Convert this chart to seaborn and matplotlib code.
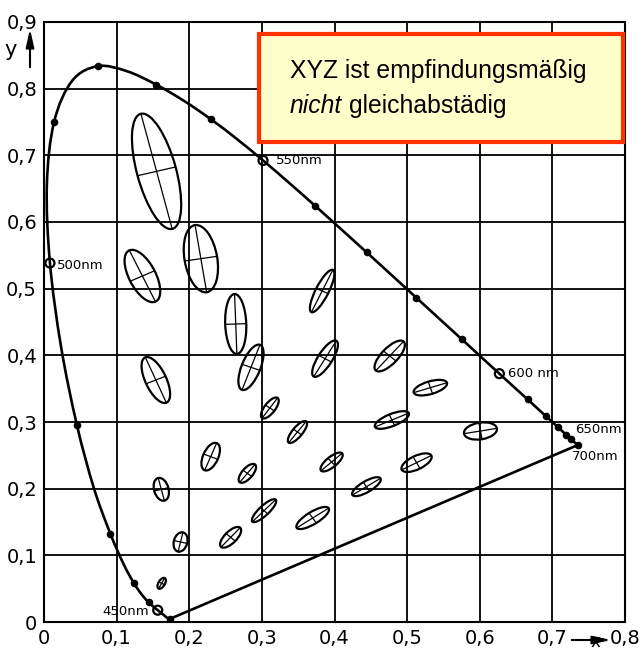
import numpy as np
import pandas as pd
import matplotlib
matplotlib.use("Agg")
import matplotlib.pyplot as plt
from matplotlib.patches import Ellipse, Rectangle, PathPatch
from matplotlib.path import Path
from matplotlib import font_manager
import seaborn as sns

# CIE 1931 spectral locus (2° observer)
wavelength_nm = [380, 390, 400, 410, 420, 425, 430, 435, 440, 445, 450, 455,
                 460, 465, 470, 475, 480, 485, 490, 495, 500, 505, 510, 515,
                 520, 525, 530, 535, 540, 545, 550, 555, 560, 565, 570, 575,
                 580, 585, 590, 595, 600, 605, 610, 615, 620, 625, 630, 635,
                 640, 645, 650, 655, 660, 670, 680, 690, 700]
locus_x = [0.1741, 0.1738, 0.1733, 0.1726, 0.1714, 0.1703, 0.1689, 0.1669,
           0.1644, 0.1611, 0.1566, 0.1510, 0.1440, 0.1355, 0.1241, 0.1096,
           0.0913, 0.0687, 0.0454, 0.0235, 0.0082, 0.0039, 0.0139, 0.0389,
           0.0743, 0.1142, 0.1547, 0.1929, 0.2296, 0.2658, 0.3016, 0.3373,
           0.3731, 0.4087, 0.4441, 0.4788, 0.5125, 0.5448, 0.5752, 0.6029,
           0.6270, 0.6482, 0.6658, 0.6801, 0.6915, 0.7006, 0.7079, 0.7140,
           0.7190, 0.7230, 0.7260, 0.7283, 0.7300, 0.7320, 0.7334, 0.7344,
           0.7347]
locus_y = [0.0050, 0.0049, 0.0048, 0.0048, 0.0051, 0.0058, 0.0069, 0.0086,
           0.0109, 0.0138, 0.0177, 0.0227, 0.0297, 0.0399, 0.0578, 0.0868,
           0.1327, 0.2007, 0.2950, 0.4127, 0.5384, 0.6548, 0.7502, 0.8120,
           0.8338, 0.8262, 0.8059, 0.7816, 0.7543, 0.7243, 0.6923, 0.6589,
           0.6245, 0.5896, 0.5547, 0.5202, 0.4866, 0.4544, 0.4242, 0.3965,
           0.3725, 0.3514, 0.3340, 0.3197, 0.3083, 0.2993, 0.2920, 0.2859,
           0.2809, 0.2770, 0.2740, 0.2717, 0.2700, 0.2680, 0.2666, 0.2656,
           0.2653]

# wavelengths marked with dots / rings on the locus
dot_nm = [380, 460, 470, 480, 490, 510, 520, 530, 540, 560, 570, 580, 590,
          610, 620, 630, 640, 650, 700]
ring_nm = [450, 500, 550, 600]
label_nm = [450, 500, 550, 600, 650, 700]
label_text = ["450nm", "500nm", "550nm", "600 nm", "650nm", "700nm"]

# MacAdam ellipses: centre, semi-axes (1e-3, drawn 10x enlarged), angle (deg)
ell_x = [0.162, 0.188, 0.257, 0.155, 0.1355, 0.216, 0.264, 0.154, 0.285,
         0.383, 0.1615, 0.2295, 0.311, 0.387, 0.476, 0.532, 0.479, 0.513,
         0.601, 0.349, 0.396, 0.444, 0.280, 0.303, 0.370]
ell_y = [0.058, 0.120, 0.127, 0.676, 0.519, 0.545, 0.447, 0.363, 0.382,
         0.4965, 0.199, 0.248, 0.321, 0.395, 0.399, 0.3515, 0.303, 0.239,
         0.2865, 0.285, 0.240, 0.203, 0.223, 0.167, 0.156]
ell_a = [0.9, 1.48, 1.95, 8.9, 4.25, 5.1, 4.5, 3.7, 3.6, 3.5, 1.75, 2.2, 1.85,
         3.1, 2.9, 2.4, 2.55, 2.3, 2.3, 2.0, 1.95, 2.3, 1.7, 2.3, 2.65]
ell_b = [0.45, 0.93, 0.85, 2.7, 1.85, 2.25, 1.45, 1.45, 1.3, 0.9, 1.0, 1.05,
         0.75, 1.0, 1.15, 0.95, 0.9, 1.0, 1.25, 0.7, 0.75, 0.8, 0.75, 0.7, 0.9]
ell_theta = [62, 77, 48, 104, 115, 99, 92, 113, 70, 65, 104, 68, 55, 60, 49,
             18, 24, 28, 10, 53, 42, 33, 52, 46, 34]
SCALE = 1e-3 * 10

x_ticks = [0.0, 0.1, 0.2, 0.3, 0.4, 0.5, 0.6, 0.7, 0.8]
x_ticklabels = ["0", "0,1", "0,2", "0,3", "0,4", "0,5", "0,6", "0,7", "0,8"]
y_ticks = [0.0, 0.1, 0.2, 0.3, 0.4, 0.5, 0.6, 0.7, 0.8, 0.9]
y_ticklabels = ["0", "0,1", "0,2", "0,3", "0,4", "0,5", "0,6", "0,7", "0,8", "0,9"]

note_line1 = "XYZ ist empfindungsmäßig"
note_line2_em = "nicht"
note_line2_rest = "gleichabstädig"


def pick_font(candidates):
    for name in candidates:
        try:
            font_manager.findfont(font_manager.FontProperties(family=name),
                                  fallback_to_default=False)
            return name
        except ValueError:
            continue
    return "DejaVu Sans"


def smooth_path(xs, ys):
    """Cubic Bezier path passing through every locus point (Catmull-Rom tangents)."""
    p = np.column_stack([xs, ys])
    n = len(p)
    verts = [p[0]]
    codes = [Path.MOVETO]
    for i in range(n - 1):
        t0 = (p[min(i + 1, n - 1)] - p[max(i - 1, 0)]) / 2
        t1 = (p[min(i + 2, n - 1)] - p[i]) / 2
        verts += [p[i] + t0 / 3, p[i + 1] - t1 / 3, p[i + 1]]
        codes += [Path.CURVE4] * 3
    return Path(verts, codes)


sns.set_theme(style="white")
plt.rcParams["font.family"] = ["DejaVu Sans"]
plt.rcParams["text.color"] = "black"

W, H = 643, 652
fig = plt.figure(figsize=(W / 100, H / 100), dpi=100)
ax = fig.add_axes([44 / W, 30 / H, 581 / W, 600 / H])

locus = pd.DataFrame({"nm": wavelength_nm, "x": locus_x, "y": locus_y})

# spectral locus (smooth) and line of purples
ax.add_patch(PathPatch(smooth_path(locus["x"], locus["y"]), fill=False,
                       ec="black", lw=1.9, zorder=3))
purple = locus[locus["nm"].isin([wavelength_nm[-1], wavelength_nm[0]])].iloc[::-1]
sns.lineplot(data=purple, x="x", y="y", sort=False, estimator=None,
             color="black", lw=1.9, ax=ax)

sns.scatterplot(data=locus[locus["nm"].isin(dot_nm)], x="x", y="y",
                s=30, color="black", edgecolor="black", linewidth=0, ax=ax,
                zorder=4)
sns.scatterplot(data=locus[locus["nm"].isin(ring_nm)], x="x", y="y",
                s=42, facecolor="none", edgecolor="black", linewidth=1.6,
                ax=ax, zorder=4)

label_offsets = {450: (-6, -1, "right"), 500: (5, -2, "left"),
                 550: (9, 0, "left"), 600: (6, 0, "left"),
                 650: (3, 7, "left"), 700: (-4, -8, "left")}
for nm, txt in zip(label_nm, label_text):
    row = locus[locus["nm"] == nm].iloc[0]
    dx, dy, ha = label_offsets[nm]
    ax.annotate(txt, (row["x"], row["y"]), xytext=(dx, dy),
                textcoords="offset points", ha=ha, va="center",
                fontsize=9.5, color="black")

# MacAdam ellipses with their principal axes
for cx, cy, a, b, th in zip(ell_x, ell_y, ell_a, ell_b, ell_theta):
    A, B = a * SCALE, b * SCALE
    ax.add_patch(Ellipse((cx, cy), 2 * A, 2 * B, angle=th, fill=False,
                         ec="black", lw=1.6, zorder=3))
    t = np.deg2rad(th)
    ax.plot([cx - A * np.cos(t), cx + A * np.cos(t)],
            [cy - A * np.sin(t), cy + A * np.sin(t)],
            color="black", lw=0.9, zorder=3)
    ax.plot([cx + B * np.sin(t), cx - B * np.sin(t)],
            [cy - B * np.cos(t), cy + B * np.cos(t)],
            color="black", lw=0.9, zorder=3)

ax.set_xlim(0, 0.8)
ax.set_ylim(0, 0.9)
ax.set_xticks(x_ticks)
ax.set_xticklabels(x_ticklabels)
ax.set_yticks(y_ticks)
ax.set_yticklabels(y_ticklabels)
ax.tick_params(length=0, labelsize=14, pad=5, colors="black")
ax.grid(True, color="black", lw=1.3)
ax.set_axisbelow(True)
for s in ax.spines.values():
    s.set_color("black")
    s.set_linewidth(1.5)
ax.set_xlabel("")
ax.set_ylabel("")

# axis captions with arrows
fig.text(11 / W, (H - 50) / H, "y", fontsize=15, ha="center", va="center")
ax.annotate("", xy=(30, H - 26), xytext=(30, H - 70),
            xycoords="figure pixels", textcoords="figure pixels",
            arrowprops=dict(arrowstyle="-|>,head_length=0.9,head_width=0.2",
                            color="black", lw=1.5))
fig.text(595 / W, 1 / H, "x", fontsize=12, ha="center", va="bottom")
ax.annotate("", xy=(614, 12), xytext=(569, 12),
            xycoords="figure pixels", textcoords="figure pixels",
            arrowprops=dict(arrowstyle="-|>,head_length=0.9,head_width=0.2",
                            color="black", lw=1.5))

# note box
fig.patches.append(Rectangle((259 / W, (H - 142) / H), 364 / W, 108 / H,
                             transform=fig.transFigure, facecolor="#FFFFCC",
                             edgecolor="#FF3300", lw=3, zorder=10))
narrow = pick_font(["Liberation Sans Narrow"])
if narrow == "Liberation Sans Narrow":
    note_font, note_size = narrow, 21
else:
    note_font, note_size = pick_font(["Liberation Sans", "Arial"]), 17.8
fig.text(290 / W, (H - 78) / H, note_line1, family=note_font,
         fontsize=note_size, ha="left", va="baseline", zorder=11)
t_em = fig.text(290 / W, (H - 113) / H, note_line2_em, family=note_font,
                style="italic", fontsize=note_size, ha="left",
                va="baseline", zorder=11)
fig.canvas.draw()
bb = t_em.get_window_extent(fig.canvas.get_renderer())
fig.text((bb.x1 + 7) / W, (H - 113) / H, note_line2_rest, family=note_font,
         fontsize=note_size, ha="left", va="baseline", zorder=11)

fig.savefig("out.png", dpi=100, facecolor="white")
